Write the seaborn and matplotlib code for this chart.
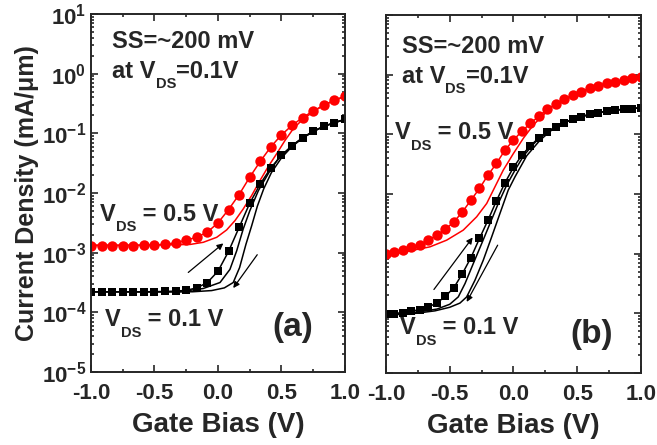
import numpy as np
import matplotlib
matplotlib.use('Agg')
import matplotlib.pyplot as plt
import seaborn as sns

sns.set_style('ticks')
plt.rcParams['font.family'] = ['Liberation Sans', 'DejaVu Sans']
plt.rcParams['font.weight'] = 'bold'
plt.rcParams['mathtext.fontset'] = 'custom'
plt.rcParams['mathtext.rm'] = 'Liberation Sans:bold'
plt.rcParams['mathtext.bf'] = 'Liberation Sans:bold'
plt.rcParams['mathtext.it'] = 'Liberation Sans:bold'
plt.rcParams['mathtext.default'] = 'rm'

# ---- panel (a): log10 of current density (mA/um)
a_x = np.linspace(-1, 1, 25)
a_red = [-2.882, -2.882, -2.882, -2.882, -2.880, -2.876, -2.871, -2.860, -2.835,
         -2.790, -2.740, -2.655, -2.500, -2.277, -2.025, -1.734, -1.468, -1.225,
         -1.025, -0.866, -0.735, -0.625, -0.529, -0.445, -0.378]
a_blk = [-3.655, -3.655, -3.655, -3.655, -3.655, -3.655, -3.653, -3.650, -3.645,
         -3.630, -3.590, -3.500, -3.310, -2.978, -2.574, -2.171, -1.846, -1.577,
         -1.370, -1.207, -1.073, -0.966, -0.882, -0.821, -0.765]

a_red_line_x = [-1.0, -0.6, -0.378, -0.22, -0.116, -0.01, 0.068, 0.134, 0.199, 0.265,
                0.331, 0.396, 0.462, 0.528, 0.593, 0.672, 0.75, 0.829, 0.934, 1.0]
a_red_line_y = [-2.872, -2.872, -2.868, -2.862, -2.826, -2.742, -2.619, -2.462, -2.266, -2.042,
                -1.790, -1.555, -1.342, -1.118, -0.922, -0.754, -0.642, -0.529, -0.434, -0.378]

a_mid_x = [-1.0, -0.3, -0.116, 0.016, 0.094, 0.147, 0.199, 0.25, 0.318, 0.40, 0.47,
           0.5, 0.583, 0.667, 0.75, 0.833, 0.917, 1.0]
a_mid_y = [-3.655, -3.655, -3.600, -3.500, -3.280, -2.970, -2.600, -2.300, -1.960, -1.660, -1.440,
           -1.370, -1.207, -1.073, -0.966, -0.882, -0.821, -0.765]

a_rgt_x = [-1.0, -0.2, -0.05, 0.05, 0.12, 0.17, 0.22, 0.265, 0.31, 0.36, 0.42, 0.5,
           0.583, 0.667, 0.75, 0.833, 0.917, 1.0]
a_rgt_y = [-3.655, -3.655, -3.635, -3.590, -3.500, -3.250, -2.860, -2.550, -2.220, -1.930, -1.660,
           -1.410, -1.220, -1.080, -0.970, -0.885, -0.822, -0.765]

# ---- panel (b)
b_x = np.linspace(-1, 1, 31)
b_red = [-3.010, -2.971, -2.932, -2.898, -2.848, -2.775, -2.691, -2.591, -2.468, -2.300,
         -2.104, -1.908, -1.685, -1.489, -1.265, -1.098, -0.946, -0.818, -0.695, -0.583,
         -0.493, -0.415, -0.342, -0.286, -0.230, -0.186, -0.147, -0.119, -0.091, -0.063, -0.035]
b_blk = [-4.017, -4.006, -3.989, -3.966, -3.938, -3.894, -3.827, -3.715, -3.569, -3.334,
         -3.066, -2.747, -2.440, -2.115, -1.813, -1.556, -1.349, -1.192, -1.058, -0.957,
         -0.874, -0.806, -0.751, -0.706, -0.667, -0.639, -0.611, -0.594, -0.583, -0.572, -0.555]

b_red_line_x = [-1.0, -0.786, -0.655, -0.524, -0.394, -0.289, -0.210, -0.145, -0.080, 0.0,
                0.077, 0.155, 0.234, 0.3, 0.4, 0.5, 0.6, 0.7, 0.8, 0.9, 1.0]
b_red_line_y = [-3.030, -2.943, -2.887, -2.775, -2.607, -2.384, -2.160, -1.880, -1.601, -1.321,
                -1.069, -0.846, -0.678, -0.540, -0.415, -0.310, -0.230, -0.165, -0.119, -0.077, -0.035]

b_mid_x = [-1.0, -0.75, -0.6, -0.5, -0.433, -0.380, -0.315, -0.249, -0.184, -0.119, -0.053,
           0.012, 0.08, 0.15, 0.2, 0.267, 0.333, 0.4, 0.5, 0.6, 0.7, 0.8, 0.9, 1.0]
b_mid_y = [-4.020, -3.980, -3.930, -3.850, -3.726, -3.502, -3.166, -2.830, -2.495, -2.159, -1.852,
           -1.601, -1.360, -1.180, -1.070, -0.957, -0.874, -0.806, -0.722, -0.667, -0.625, -0.594,
           -0.577, -0.555]

b_rgt_x = [-1.0, -0.8, -0.616, -0.5, -0.42, -0.367, -0.302, -0.237, -0.171, -0.106, -0.041,
           0.012, 0.104, 0.208, 0.3, 0.4, 0.5, 0.6, 0.7, 0.8, 0.9, 1.0]
b_rgt_y = [-4.030, -4.010, -3.960, -3.900, -3.830, -3.726, -3.446, -3.111, -2.720, -2.327, -1.936,
           -1.713, -1.360, -1.100, -0.930, -0.806, -0.722, -0.667, -0.625, -0.594, -0.577, -0.555]

# sweep arrows: (x_start, log_start, x_end, log_end)
a_arrows = [(-0.234, -3.331, 0.042, -2.844), (0.309, -3.034, 0.120, -3.593)]
b_arrows = [(-0.624, -3.602, -0.320, -2.730), (-0.124, -2.859, -0.367, -3.810)]

yt_exp = [-5, -4, -3, -2, -1, 0, 1]
xt = [-1.0, -0.5, 0.0, 0.5, 1.0]

fig = plt.figure(figsize=(6.57, 4.45), dpi=100)
ax_a = fig.add_axes([0.1385, 0.164, 0.3866, 0.8045])
ax_b = fig.add_axes([0.5875, 0.162, 0.3881, 0.8045])


def draw(ax, x, red, blk, rlx, rly, mx, my, gx, gy, arrows):
    p = lambda v: [10 ** t for t in v]
    sns.lineplot(x=rlx, y=p(rly), ax=ax, color='red', lw=1.1)
    sns.lineplot(x=gx, y=p(gy), ax=ax, color='black', lw=1.1)
    sns.lineplot(x=mx, y=p(my), ax=ax, color='black', lw=1.1)
    sns.lineplot(x=x, y=p(blk), ax=ax, color='black', lw=1.1, marker='s',
                 markersize=5.5, markeredgewidth=0)
    sns.lineplot(x=x, y=p(red), ax=ax, color='red', lw=1.1, marker='o',
                 markersize=7.5, markeredgewidth=0)
    for x0, y0, x1, y1 in arrows:
        ax.annotate('', xy=(x1, 10 ** y1), xytext=(x0, 10 ** y0),
                    arrowprops=dict(arrowstyle='-|>', color='black', lw=0.9,
                                    mutation_scale=9, shrinkA=0, shrinkB=0))
    ax.set_yscale('log')
    ax.set_xlim(-1, 1)
    ax.set_ylim(1e-5, 10)
    ax.set_xticks(xt)
    ax.set_xticks([-0.75, -0.25, 0.25, 0.75], minor=True)
    ax.set_xticklabels(['%.1f' % v for v in xt], fontsize=16, fontweight='bold')
    ax.set_yticks([10.0 ** e for e in yt_exp])
    ax.tick_params(which='both', direction='in', top=True, right=True, width=1.2)
    ax.tick_params(which='major', length=5)
    ax.tick_params(which='minor', length=2.5)
    ax.tick_params(axis='x', pad=8)
    for s in ax.spines.values():
        s.set_linewidth(1.4)
    ax.set_xlabel('Gate Bias (V)', fontsize=20, fontweight='bold', labelpad=6)
    ax.set_ylabel('')


def vds(ax, x, y, pre, post, fs=17):
    # V with a small, low-set DS subscript, like the original figure
    t1 = ax.text(x, y, pre + 'V', transform=ax.transAxes, fontsize=fs,
                 fontweight='bold', va='bottom')
    t2 = ax.annotate('DS', xy=(1.0, 0.24), xycoords=t1, fontsize=fs * 0.62,
                     fontweight='bold', va='top', ha='left')
    ax.annotate(post, xy=(1.0, 0.0), xycoords=(t2, t1), fontsize=fs,
                fontweight='bold', va='bottom', ha='left')


draw(ax_a, a_x, a_red, a_blk, a_red_line_x, a_red_line_y, a_mid_x, a_mid_y,
     a_rgt_x, a_rgt_y, a_arrows)
draw(ax_b, b_x, b_red, b_blk, b_red_line_x, b_red_line_y, b_mid_x, b_mid_y,
     b_rgt_x, b_rgt_y, b_arrows)

ax_a.set_yticklabels([r'$10^{%d}$' % e for e in yt_exp], fontsize=16)
ax_b.set_yticklabels([])
ax_a.set_ylabel('Current Density (mA/\u03bcm)', fontsize=18, fontweight='bold', labelpad=2)

# text anchors in axes fraction (bottom of the text box)
for ax, (x0, y_ss, y_at, x5, y5, x1, y1, xl, yl, lab) in [
        (ax_a, (0.083, 0.892, 0.808, 0.035, 0.408, 0.055, 0.114, 0.793, 0.101, '(a)')),
        (ax_b, (0.062, 0.881, 0.797, 0.035, 0.639, 0.055, 0.094, 0.806, 0.084, '(b)'))]:
    ax.text(x0, y_ss, 'SS=~200 mV', transform=ax.transAxes, fontsize=17,
            fontweight='bold', va='bottom')
    vds(ax, x0, y_at, 'at ', '=0.1V')
    vds(ax, x5, y5, '', ' = 0.5 V')
    vds(ax, x1, y1, '', ' = 0.1 V')
    ax.text(xl, yl, lab, transform=ax.transAxes, fontsize=24,
            fontweight='bold', va='baseline', ha='center')

fig.savefig('out.png', dpi=100)
